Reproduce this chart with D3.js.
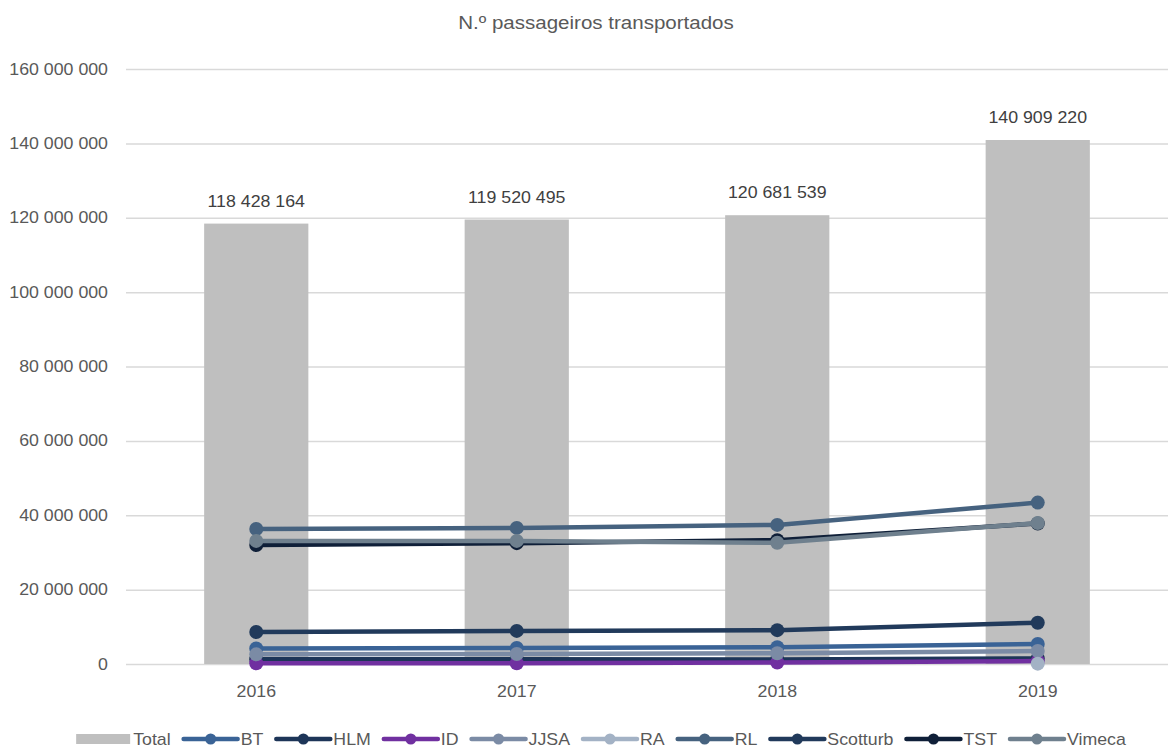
<!DOCTYPE html>
<html>
<head>
<meta charset="utf-8">
<script src="https://cdn.jsdelivr.net/npm/d3@7"></script>
<style>
body { margin: 0; background: #fff; }
text { font-family: "Liberation Sans", Arial, sans-serif; }
</style>
</head>
<body>
<svg id="chart" width="1168" height="751"></svg>
<script>
var years = ['2016', '2017', '2018', '2019'];
var totals = [118428164, 119520495, 120681539, 140909220];

var operators = ['BT', 'HLM', 'ID', 'JJSA', 'RA', 'RL', 'Scotturb', 'TST', 'Vimeca'];
var bt = [4200000, 4300000, 4500000, 5400000];
var hlm = [1300000, 1300000, 1200000, 1500000];
var id = [200000, 200000, 400000, 800000];
var jjsa = [2600000, 2700000, 2900000, 3500000];
var ra = [null, null, null, 100000];
var rl = [36300000, 36600000, 37400000, 43400000];
var scotturb = [8600000, 8900000, 9100000, 11100000];
var tst = [32000000, 32500000, 33300000, 37800000];
var vimeca = [33100000, 33100000, 32600000, 37900000];

var yTicks = [0, 20000000, 40000000, 60000000, 80000000, 100000000, 120000000, 140000000, 160000000];

var seriesValues = [bt, hlm, id, jjsa, ra, rl, scotturb, tst, vimeca];
var seriesColors = ['#3a6396', '#1d3558', '#7030a0', '#7b8ba5', '#a3b2c5', '#46627f', '#213a5b', '#0f1f38', '#6f808e'];

var SX = 1.11; // text in the picture is stretched sideways
var fmt = d3.formatLocale({ decimal: ',', thousands: ' ', grouping: [3], currency: ['', '€'] }).format(',');

var svg = d3.select('#chart');
var plotL = 126, plotR = 1168, plotT = 69, plotB = 664;

var x = d3.scaleBand().domain(years).range([plotL, plotR]).paddingInner(0.6).paddingOuter(0.3);
var y = d3.scaleLinear().domain([0, 160000000]).range([plotB, plotT]);

function label(g, px, py, str, size, color, anchor) {
    return g.append('text')
        .attr('transform', 'translate(' + px + ',' + py + ') scale(' + SX + ',1)')
        .attr('text-anchor', anchor || 'middle')
        .style('font-size', size + 'px')
        .style('fill', color)
        .text(str);
}

// title
label(svg, 596, 29, 'N.º passageiros transportados', 18.5, '#595959');

// grid + y labels
var yAxis = svg.append('g')
    .attr('transform', 'translate(' + plotL + ',0)')
    .call(d3.axisLeft(y).tickValues(yTicks).tickSize(-(plotR - plotL)).tickFormat(''));
yAxis.select('.domain').remove();
yAxis.selectAll('line').attr('stroke', '#d9d9d9').attr('stroke-width', 1.5);

yTicks.forEach(function (t) {
    label(svg, 108, y(t) + 5.5, fmt(t), 16, '#595959', 'end');
});

// bars
svg.append('g').selectAll('rect')
    .data(totals)
    .join('rect')
    .attr('x', function (d, i) { return x(years[i]); })
    .attr('width', x.bandwidth())
    .attr('y', function (d) { return y(d); })
    .attr('height', function (d) { return plotB - y(d); })
    .attr('fill', '#bfbfbf');

totals.forEach(function (d, i) {
    label(svg, x(years[i]) + x.bandwidth() / 2, y(d) - 17, fmt(d), 16, '#404040');
});

// x labels
years.forEach(function (yr) {
    label(svg, x(yr) + x.bandwidth() / 2, 697, yr, 16, '#595959');
});

// lines
var cx = function (i) { return x(years[i]) + x.bandwidth() / 2; };
var line = d3.line()
    .defined(function (d) { return d !== null; })
    .x(function (d, i) { return cx(i); })
    .y(function (d) { return y(d); });

seriesValues.forEach(function (vals, s) {
    var g = svg.append('g');
    g.append('path')
        .attr('d', line(vals))
        .attr('fill', 'none')
        .attr('stroke', seriesColors[s])
        .attr('stroke-width', 4.5)
        .attr('stroke-linejoin', 'round');
    g.selectAll('circle')
        .data(vals.map(function (v, i) { return { v: v, i: i }; }).filter(function (d) { return d.v !== null; }))
        .join('circle')
        .attr('cx', function (d) { return cx(d.i); })
        .attr('cy', function (d) { return y(d.v); })
        .attr('r', 7)
        .attr('fill', seriesColors[s]);
});

// legend
var legend = svg.append('g');
var ly = 739;
var items = ['Total'].concat(operators);
var widths = [];
var tmp = legend.append('g');
items.forEach(function (name) {
    var t = label(tmp, 0, 0, name, 16, '#595959', 'start');
    widths.push(t.node().getComputedTextLength() * SX);
});
tmp.remove();

var symW = 54, gapT = 3, gapI = 13;
var total = 0;
widths.forEach(function (w) { total += symW + gapT + w + gapI; });
total -= gapI;
var lx = 601 - total / 2;

items.forEach(function (name, k) {
    if (k === 0) {
        legend.append('rect')
            .attr('x', lx).attr('y', ly - 5)
            .attr('width', symW).attr('height', 10)
            .attr('fill', '#bfbfbf');
    } else {
        legend.append('line')
            .attr('x1', lx).attr('x2', lx + symW)
            .attr('y1', ly).attr('y2', ly)
            .attr('stroke', seriesColors[k - 1])
            .attr('stroke-width', 4.5)
            .attr('stroke-linecap', 'round');
        legend.append('circle')
            .attr('cx', lx + symW / 2).attr('cy', ly)
            .attr('r', 5.5)
            .attr('fill', seriesColors[k - 1]);
    }
    label(legend, lx + symW + gapT, ly + 6, name, 16, '#595959', 'start');
    lx += symW + gapT + widths[k] + gapI;
});
</script>
</body>
</html>
